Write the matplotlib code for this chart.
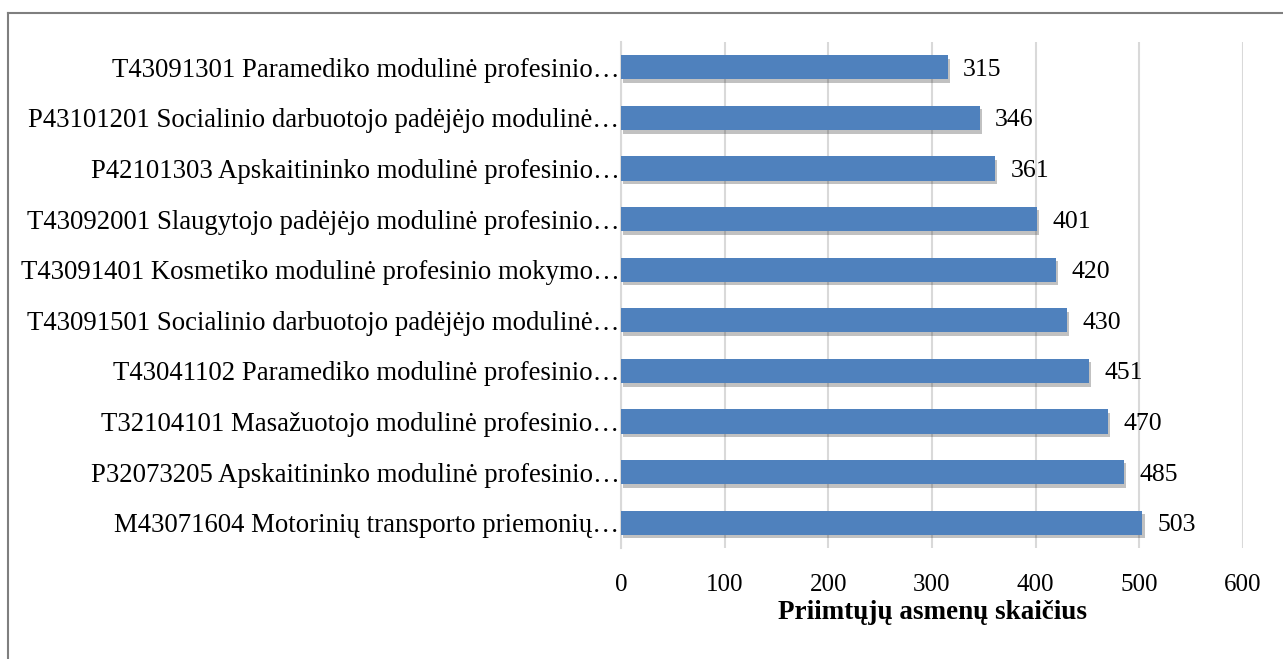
import matplotlib
matplotlib.use("Agg")
import matplotlib.pyplot as plt
from matplotlib.lines import Line2D
import matplotlib.patheffects as pe

categories = [
    "T43091301 Paramediko modulinė profesinio…",
    "P43101201 Socialinio darbuotojo padėjėjo modulinė…",
    "P42101303 Apskaitininko modulinė profesinio…",
    "T43092001 Slaugytojo padėjėjo modulinė profesinio…",
    "T43091401 Kosmetiko modulinė profesinio mokymo…",
    "T43091501 Socialinio darbuotojo padėjėjo modulinė…",
    "T43041102 Paramediko modulinė profesinio…",
    "T32104101 Masažuotojo modulinė profesinio…",
    "P32073205 Apskaitininko modulinė profesinio…",
    "M43071604 Motorinių transporto priemonių…",
]
values = [315, 346, 361, 401, 420, 430, 451, 470, 485, 503]
xticks = [0, 100, 200, 300, 400, 500, 600]
xlabel = "Priimtųjų asmenų skaičius"

plt.rcParams['font.family'] = ['Liberation Serif', 'DejaVu Serif']

fig = plt.figure(figsize=(12.83, 6.59), dpi=100)
ax = fig.add_axes([621/1283, 1-548/659, (1243-621)/1283, (548-42)/659])

n = len(categories)
ypos = [n - 1 - i for i in range(n)]
bars = ax.barh(ypos, values, height=0.48, color='#4F81BD', zorder=3)
for b in bars:
    b.set_path_effects([pe.SimplePatchShadow(offset=(1.5, -2.5), shadow_rgbFace='#333333', alpha=0.3), pe.Normal()])

for y, v in zip(ypos, values):
    ax.text(v + 15, y, str(v), va='center_baseline', ha='left', fontsize=18.5, color='black')

ax.set_xlim(0, 600)
ax.set_ylim(-0.5, n - 0.5)
ax.set_xticks(xticks)
ax.set_xticklabels([str(t) for t in xticks], fontsize=18)
ax.set_yticks(ypos)
ax.set_yticklabels(categories, fontsize=19.3)
for lbl in ax.get_yticklabels():
    lbl.set_verticalalignment('center_baseline')
ax.tick_params(axis='x', length=0, pad=18.5)
ax.tick_params(axis='y', length=0, pad=1)
ax.grid(axis='x', color='#d9d9d9', linewidth=1.5, zorder=0)
for s in ['top', 'right', 'bottom']:
    ax.spines[s].set_visible(False)
ax.spines['left'].set_color('#d9d9d9')
ax.spines['left'].set_linewidth(1.5)
ax.set_xlabel(xlabel, fontsize=19.5, fontweight='bold', labelpad=3)

# outer border (cropped at right/bottom)
fig.add_artist(Line2D([8/1283, 8/1283], [0, 1-13/659], transform=fig.transFigure, color='#7f7f7f', linewidth=1.5))
fig.add_artist(Line2D([8/1283, 1], [1-13/659, 1-13/659], transform=fig.transFigure, color='#7f7f7f', linewidth=1.5))

fig.savefig("out.png", dpi=100)
